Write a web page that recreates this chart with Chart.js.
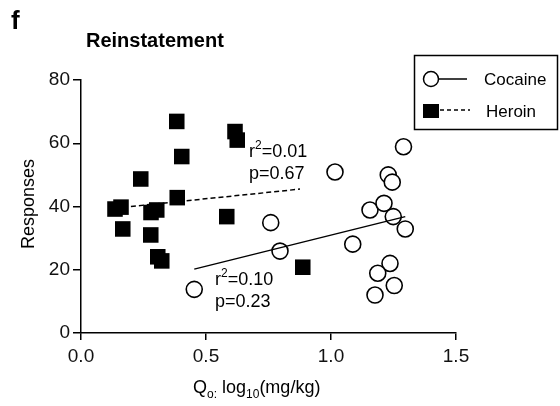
<!DOCTYPE html>
<html>
<head>
<meta charset="utf-8">
<script src="https://cdn.jsdelivr.net/npm/chart.js@4"></script>
<style>
  html, body { margin: 0; padding: 0; background: #fff; }
  #wrap { width: 560px; height: 406px; position: relative; }
</style>
</head>
<body>
<div id="wrap"><canvas id="chart" width="560" height="406"></canvas></div>
<script>
// cocaine (open circles)
const cocaineX = [0.453, 0.759, 0.796, 1.016, 1.087, 1.156, 1.212, 1.229, 1.245, 1.249, 1.297, 1.236, 1.187, 1.253, 1.176, 1.290];
const cocaineY = [13.8, 34.9, 25.9, 50.9, 28.1, 38.9, 41.0, 50.0, 47.7, 36.8, 32.9, 22.0, 18.9, 15.0, 12.0, 58.9];

// heroin (filled squares)
const heroinX = [0.136, 0.160, 0.167, 0.239, 0.279, 0.280, 0.303, 0.307, 0.323, 0.385, 0.403, 0.583, 0.887, 0.383, 0.616, 0.625];
const heroinY = [39.2, 39.8, 32.9, 48.7, 31.0, 38.1, 38.9, 24.1, 22.8, 42.8, 55.8, 36.8, 20.8, 66.9, 63.7, 61.0];

// regression lines (end points)
const cocaineFitX = [0.453, 1.297];
const cocaineFitY = [20.2, 36.8];
const heroinFitX = [0.136, 0.876];
const heroinFitY = [39.5, 45.5];

const xTicks = [0, 0.5, 1.0, 1.5];
const yTicks = [0, 20, 40, 60, 80];

const FONT = '"Liberation Sans", Arial, sans-serif';

function pts(xs, ys) {
    return xs.map((x, i) => ({ x: x, y: ys[i] }));
}

// texts, legend, title
const extras = {
    id: 'extras',
    afterDraw(chart) {
        const ctx = chart.ctx;
        ctx.save();
        ctx.fillStyle = '#000';
        ctx.textBaseline = 'alphabetic';

        // panel letter + title
        ctx.font = 'bold 26px ' + FONT;
        ctx.fillText('f', 11, 29);
        ctx.font = 'bold 20px ' + FONT;
        ctx.fillText('Reinstatement', 86, 47);

        // r² / p texts
        function stat(x, y, r, p) {
            ctx.font = '18px ' + FONT;
            ctx.fillText('r', x, y);
            let w = ctx.measureText('r').width;
            ctx.font = '12px ' + FONT;
            ctx.fillText('2', x + w, y - 8);
            let w2 = ctx.measureText('2').width;
            ctx.font = '18px ' + FONT;
            ctx.fillText('=' + r, x + w + w2, y);
            ctx.fillText('p=' + p, x, y + 22);
        }
        stat(249, 157, '0.01', '0.67');
        stat(215, 285, '0.10', '0.23');

        // y title
        ctx.save();
        ctx.translate(34, 204);
        ctx.rotate(-Math.PI / 2);
        ctx.textAlign = 'center';
        ctx.font = '18px ' + FONT;
        ctx.fillText('Responses', 0, 0);
        ctx.restore();

        // x title with subscripts
        let tx = 193, ty = 393;
        const parts = [['Q', 18, 0], ['o:', 12, 5], [' log', 18, 0], ['10', 12, 5], ['(mg/kg)', 18, 0]];
        parts.forEach(p => {
            ctx.font = p[1] + 'px ' + FONT;
            ctx.fillText(p[0], tx, ty + p[2]);
            tx += ctx.measureText(p[0]).width;
        });

        // legend box
        ctx.lineWidth = 1.5;
        ctx.strokeStyle = '#000';
        ctx.strokeRect(414.5, 55.5, 143, 74);
        ctx.beginPath();
        ctx.arc(431, 79, 7.5, 0, Math.PI * 2);
        ctx.fillStyle = '#fff';
        ctx.fill();
        ctx.stroke();
        ctx.beginPath();
        ctx.moveTo(439, 79);
        ctx.lineTo(467, 79);
        ctx.stroke();
        ctx.fillStyle = '#000';
        ctx.fillRect(423, 104, 16, 14);
        ctx.setLineDash([4, 3]);
        ctx.beginPath();
        ctx.moveTo(440, 110);
        ctx.lineTo(470, 110);
        ctx.stroke();
        ctx.setLineDash([]);
        ctx.font = '17px ' + FONT;
        ctx.fillText('Cocaine', 484, 85);
        ctx.fillText('Heroin', 486, 117);
        ctx.restore();
    }
};

const ctx = document.getElementById('chart').getContext('2d');
new Chart(ctx, {
    type: 'scatter',
    data: {
        datasets: [
            {
                label: 'Heroin fit',
                type: 'line',
                data: pts(heroinFitX, heroinFitY),
                borderColor: '#000',
                borderWidth: 1.5,
                borderDash: [5, 3],
                pointRadius: 0,
                fill: false
            },
            {
                label: 'Cocaine fit',
                type: 'line',
                data: pts(cocaineFitX, cocaineFitY),
                borderColor: '#000',
                borderWidth: 1.5,
                pointRadius: 0,
                fill: false
            },
            {
                label: 'Heroin',
                data: pts(heroinX, heroinY),
                pointStyle: 'rect',
                pointRadius: 11,
                backgroundColor: '#000',
                borderColor: '#000',
                borderWidth: 0
            },
            {
                label: 'Cocaine',
                data: pts(cocaineX, cocaineY),
                pointStyle: 'circle',
                pointRadius: 8,
                backgroundColor: '#fff',
                borderColor: '#000',
                borderWidth: 1.6
            }
        ]
    },
    options: {
        responsive: false,
        animation: false,
        layout: { padding: { left: 0, top: 80, right: 104, bottom: 0 } },
        plugins: {
            legend: { display: false },
            tooltip: { enabled: false }
        },
        scales: {
            x: {
                type: 'linear',
                min: 0,
                max: 1.5,
                afterFit: s => { s.height = 73; },
                afterBuildTicks: s => { s.ticks = xTicks.map(v => ({ value: v })); },
                ticks: {
                    callback: v => v.toFixed(1),
                    color: '#111',
                    font: { family: FONT, size: 19 },
                    padding: 5
                },
                grid: { drawOnChartArea: false, drawTicks: true, tickLength: 7, color: '#000', lineWidth: 1.5 },
                border: { color: '#000', width: 1.5 }
            },
            y: {
                min: 0,
                max: 80,
                afterFit: s => { s.width = 81; },
                afterBuildTicks: s => { s.ticks = yTicks.map(v => ({ value: v })); },
                ticks: {
                    color: '#111',
                    font: { family: FONT, size: 19 },
                    padding: 3
                },
                grid: { drawOnChartArea: false, drawTicks: true, tickLength: 8, color: '#000', lineWidth: 1.5 },
                border: { color: '#000', width: 1.5 }
            }
        }
    },
    plugins: [extras]
});
</script>
</body>
</html>
